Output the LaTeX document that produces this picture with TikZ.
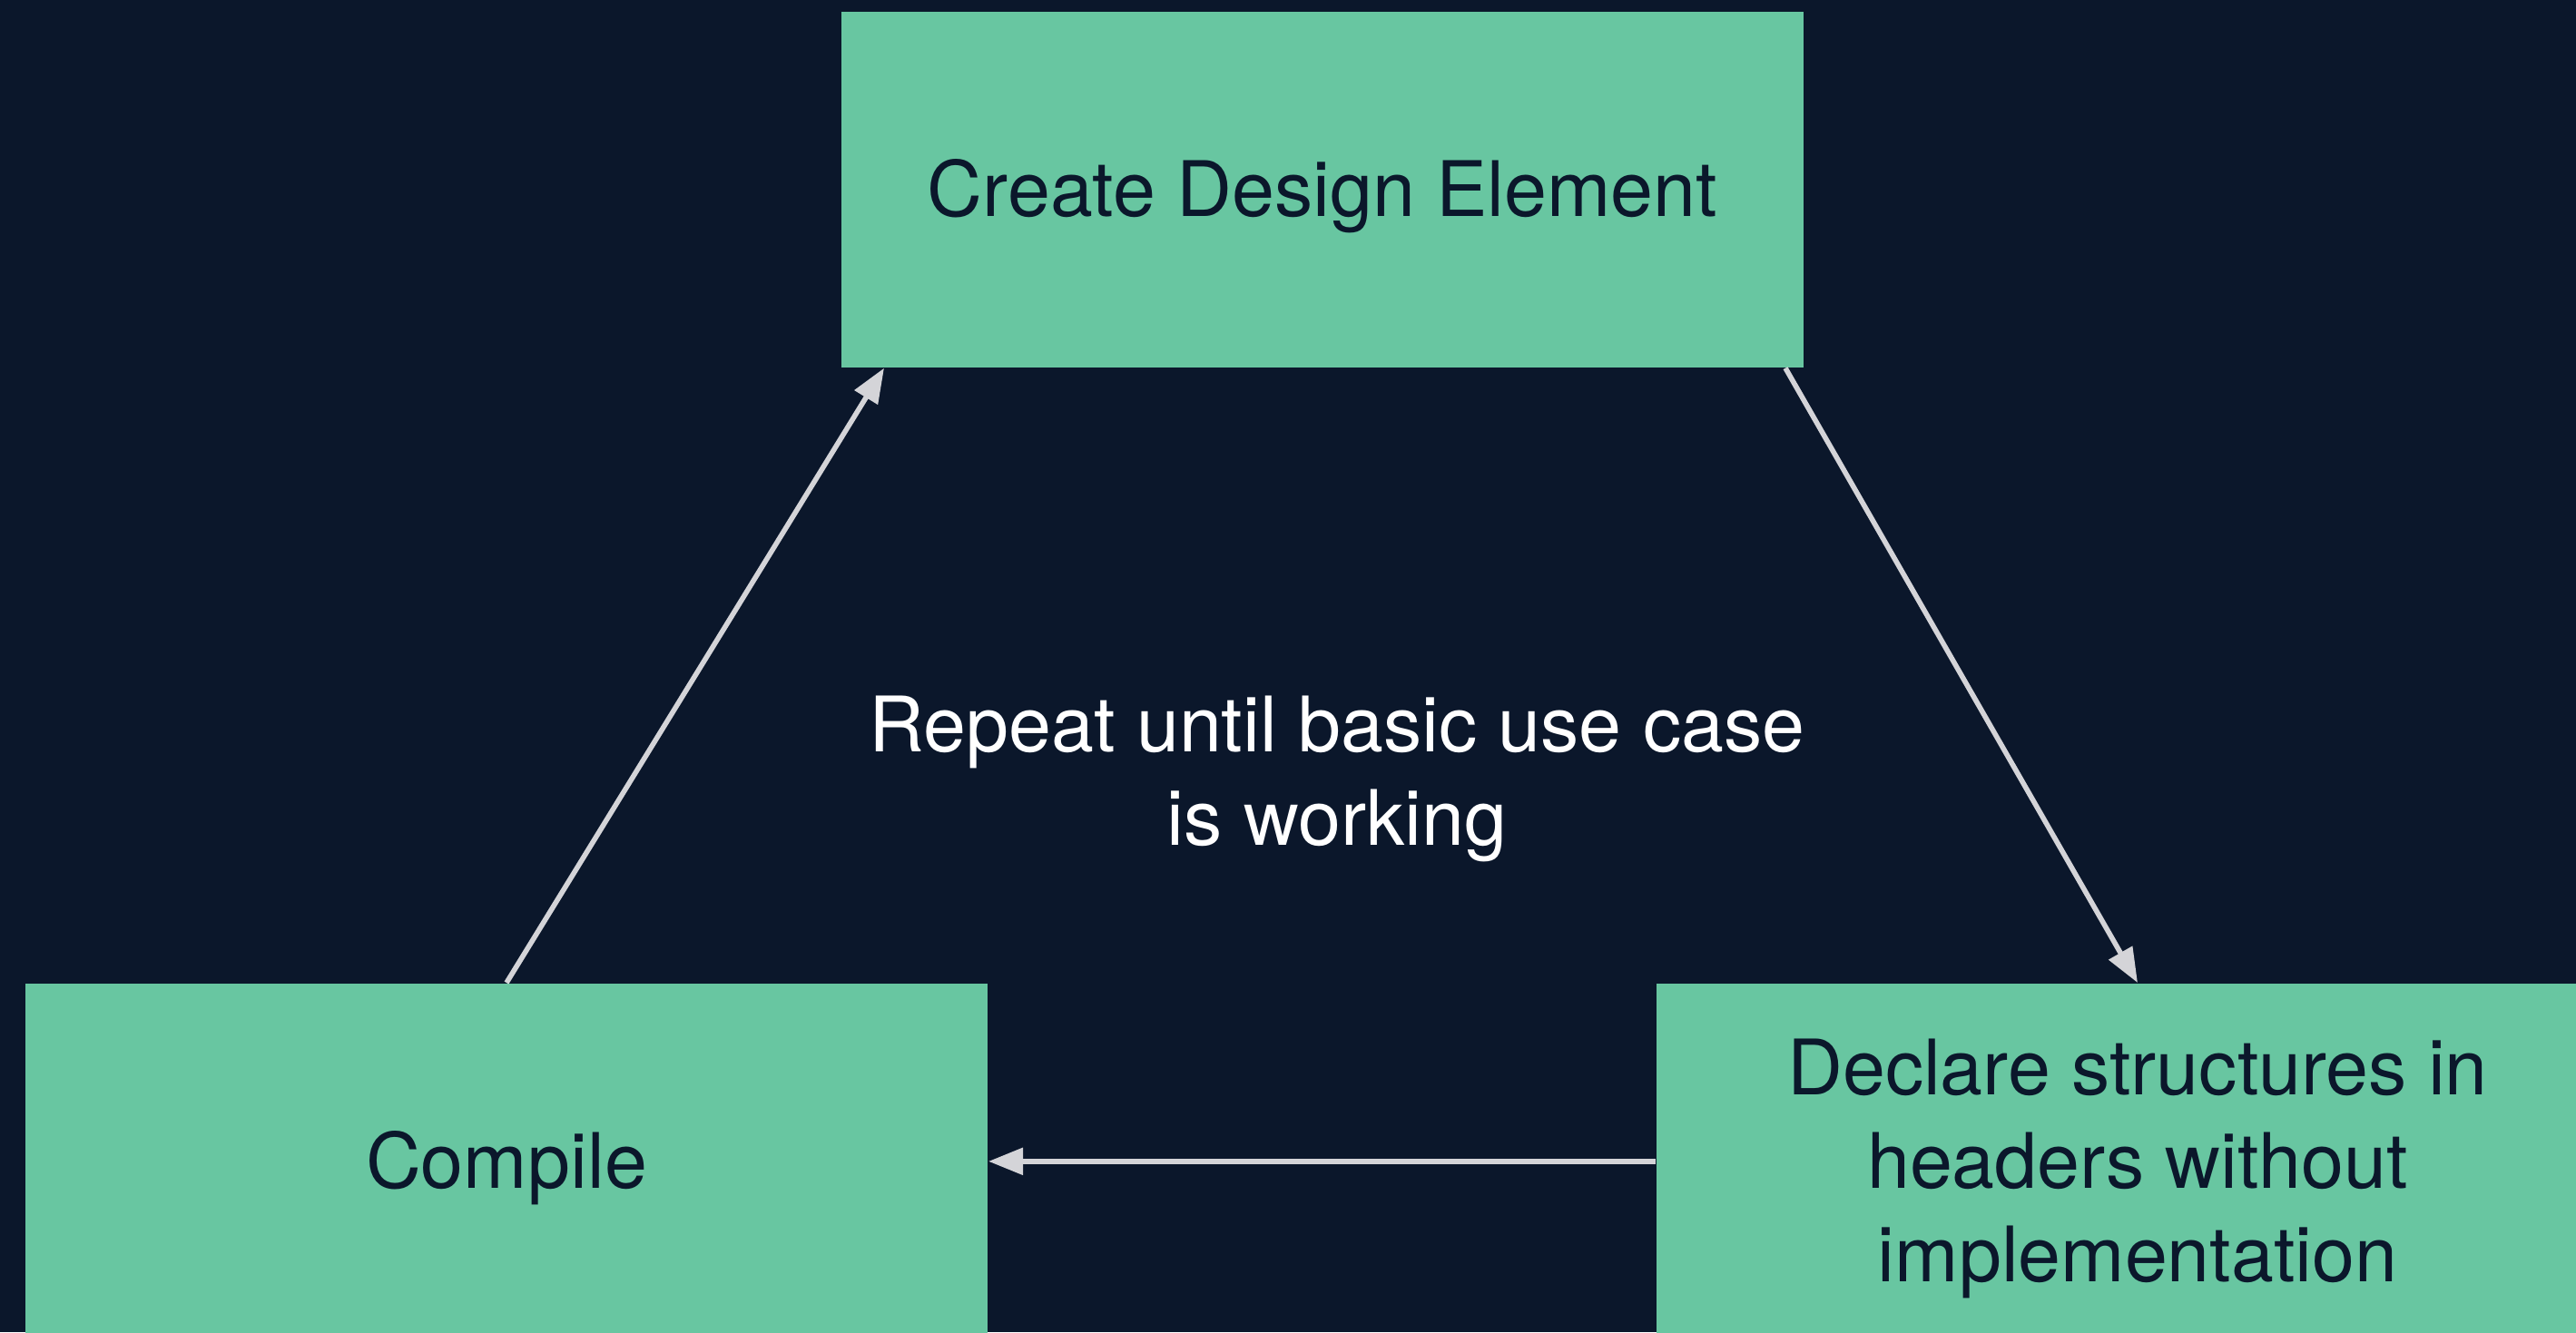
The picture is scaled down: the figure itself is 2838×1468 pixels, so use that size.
\documentclass[tikz,border=0pt]{standalone}
\usepackage{fontspec}
\setmainfont{TeX Gyre Heros}
\usetikzlibrary{arrows.meta,calc}
\definecolor{bgnavy}{HTML}{0B172B}
\definecolor{boxgreen}{HTML}{68C6A1}
\definecolor{linegray}{HTML}{D4D4D8}
% centred lines of text, set a little below the node centre
\newcommand{\droptext}[1]{\raisebox{-2.6pt}[\height][\depth]{\begin{tabular}{@{}c@{}}#1\end{tabular}}}
\tikzset{
  stepbox/.style={fill=boxgreen, draw=none, minimum width=10.6cm, minimum height=3.92cm,
    inner sep=0pt, text=bgnavy, font=\fontsize{24}{29.2}\selectfont},
  flow/.style={draw=linegray, line width=1.6pt, -{Triangle[length=0.38cm,width=0.29cm]}},
  note/.style={text=white, inner sep=0pt, font=\fontsize{24}{29.2}\selectfont}
}
\begin{document}
\begin{tikzpicture}[x=0.01cm,y=-0.01cm]
  \fill[bgnavy] (0,0) rectangle (2838,1468);
  \useasboundingbox (0,0) rectangle (2838,1468);
  \node[stepbox, anchor=north west] (design) at (926,12) {\droptext{Create Design Element}};
  \node[stepbox, anchor=north west] (compile) at (27,1083) {\droptext{Compile}};
  \node[stepbox, anchor=north west] (declare) at (1824,1083) {\droptext{Declare structures in\\headers without\\implementation}};
  \node[note] (repeat) at (1473,850) {\droptext{Repeat until basic use case\\is working}};
  \coordinate (designin) at ($(design.south west)+(48,0)$);
  \coordinate (designout) at ($(design.south east)+(-21,0)$);
  \draw[flow] (compile.north) -- (designin);
  \draw[flow] (designout) -- (declare.north);
  \draw[flow] (declare.west) -- (compile.east);
\end{tikzpicture}
\end{document}
